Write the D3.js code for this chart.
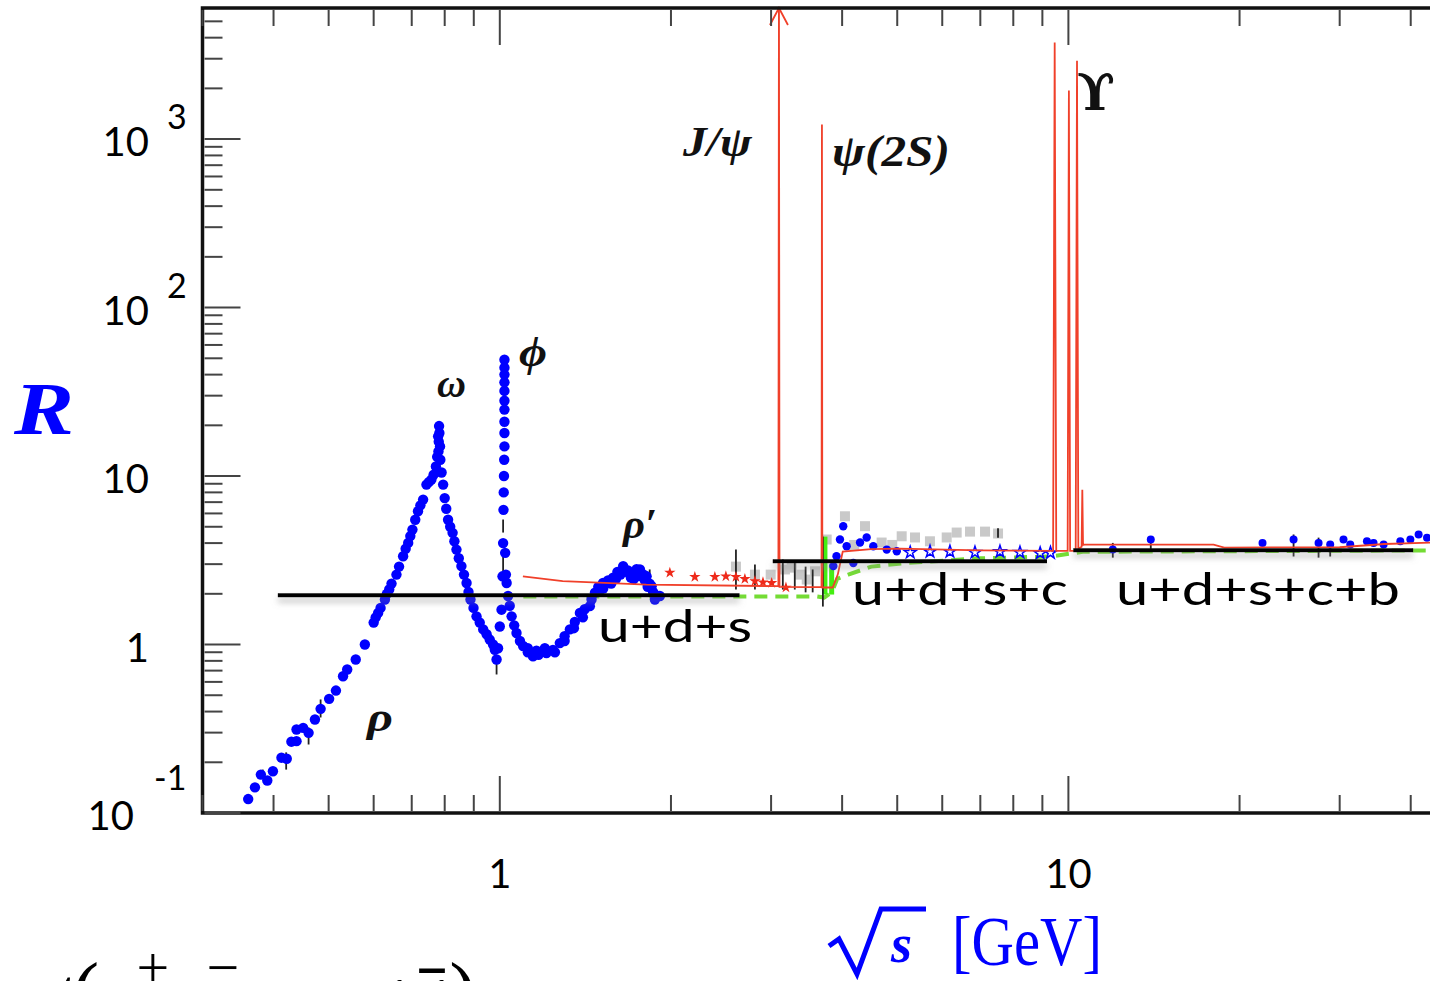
<!DOCTYPE html>
<html>
<head>
<meta charset="utf-8">
<script src="https://cdn.jsdelivr.net/npm/d3@7"></script>
<style>
  body { margin: 0; background: #fff; }
  svg { display: block; }
</style>
</head>
<body>
<svg id="chart" width="1430" height="981"></svg>
<script>
// values: [sqrt(s) in GeV, R]
var lowEnergyDots = [
  [0.361,0.121],[0.371,0.142],[0.380,0.169],[0.390,0.156],[0.399,0.177],[0.413,0.213],[0.422,0.210],
  [0.430,0.265],[0.439,0.267],[0.439,0.313],[0.451,0.320],[0.461,0.299],[0.473,0.359],[0.484,0.415],
  [0.501,0.476],[0.515,0.533],[0.530,0.648],[0.539,0.711],[0.558,0.815],[0.579,1.0],[0.600,1.35],
  [0.605,1.45],[0.611,1.54],[0.617,1.65],[0.628,1.85],[0.633,2.0],[0.639,2.12],[0.645,2.3],[0.658,2.60],
  [0.665,2.9],[0.676,3.34],[0.683,3.7],[0.690,4.01],[0.696,4.4],[0.702,4.81],[0.710,5.5],[0.718,6.18],
  [0.725,6.7],[0.733,7.25],[0.743,8.90],[0.750,9.2],[0.758,9.53],[0.765,10.2],[0.772,11.4],[0.776,13],
  [0.779,17.2],[0.780,14],[0.781,16],[0.782,19.8],[0.783,18],[0.785,15],[0.786,12.5],
  [0.790,10.5],[0.795,8.9],[0.800,7.4],[0.805,6.4],[0.811,5.5],[0.818,5.0],[0.826,4.6],[0.832,4.1],
  [0.839,3.66],[0.847,3.25],[0.856,2.92],[0.865,2.6],[0.874,2.32],[0.881,2.05],[0.888,1.85],[0.899,1.65],
  [0.910,1.47],[0.922,1.35],[0.935,1.23],[0.948,1.15],[0.960,1.07],[0.973,1.0],[0.980,0.93],[0.987,0.815],
  [0.993,0.95],[1.000,1.28],[1.007,1.61],[1.011,2.54],[1.0135,4.0],[1.015,6.3],[1.016,8],[1.017,10],
  [1.018,12.5],[1.019,15],[1.019,18],[1.019,21],[1.019,24.8],[1.019,28],[1.019,32],[1.019,36],[1.019,40],
  [1.019,44],[1.019,49],
  [1.022,3.5],[1.025,2.6],[1.028,2.32],[1.034,1.94],[1.041,1.7],[1.049,1.47],[1.060,1.3],[1.070,1.17],
  [1.085,1.05],[1.099,0.98],[1.12,0.9],[1.12,0.95],[1.144,0.85],[1.16,0.92],[1.17,0.87],[1.2,0.95],
  [1.208,0.89],[1.24,0.93],[1.25,0.9],[1.275,1.02],[1.30,1.12],[1.30,1.05],[1.328,1.23],[1.35,1.25],
  [1.355,1.36],[1.383,1.54],[1.40,1.45],[1.41,1.62],[1.44,1.69],[1.45,1.85],[1.47,2.03],[1.49,2.2],
  [1.50,2.1],[1.519,2.32],[1.52,2.15],[1.55,2.4],[1.57,2.3],[1.582,2.49],[1.60,2.45],[1.61,2.7],
  [1.63,2.6],[1.648,2.92],[1.66,2.7],[1.68,2.75],[1.70,2.5],[1.717,2.67],[1.72,2.45],[1.74,2.8],
  [1.76,2.55],[1.764,2.79],[1.79,2.6],[1.80,2.4],[1.812,2.54],[1.82,2.2],[1.835,2.3],[1.849,2.22],
  [1.86,2.05],[1.874,1.85],[1.89,1.95],[1.912,1.94]
];
var charmDots = [
  [3.86,2.92],[3.91,3.34],[3.965,4.2],[4.018,5.04],[4.074,3.83],[4.186,3.05],[4.301,4.03],
  [4.418,4.32],[4.538,3.83],[4.792,3.66],[4.991,3.58]
];
var charmStars = [[5.27,3.52],[5.71,3.56],[6.19,3.56],[6.85,3.52],[7.58,3.56],[8.22,3.52],[8.92,3.48],[9.3,3.5]];
var highEnergyDots = [
  [11.97,3.66],[13.96,4.2],[21.95,4.01],[24.89,4.2],[27.54,4.01],[28.87,3.92],[30.47,4.2],[31.31,3.92],
  [33.5,4.1],[34.41,4.01],[35.84,3.92],[38.35,4.1],[39.94,4.2],[41.3,4.5],[42.73,4.3]
];
var graySquares = [
  [2.602,2.90],[2.81,2.60],[2.995,2.60],[3.173,2.79],[3.261,2.86],[3.373,2.60],[3.466,2.43],[3.584,2.72],
  [3.757,4.2],[4.046,5.77],[4.2,3.9],[4.388,5.04],[4.694,4.03],[4.9,3.9],[5.091,4.39],[5.373,4.32],
  [5.708,4.10],[6.109,4.32],[6.361,4.62],[6.714,4.68],[7.135,4.68],[7.521,4.56]
];
var redStars = [
  [1.991,2.67],[2.203,2.52],[2.389,2.52],[2.498,2.54],[2.602,2.52],[2.698,2.45],[2.81,2.38],
  [2.903,2.34],[3.007,2.32],[3.186,2.18]
];
// [sqrt(s), low, high]
var errorBars = [
  [0.383,0.165,0.181],[0.421,0.181,0.229],[0.461,0.255,0.322],[0.484,0.369,0.472],[0.987,0.664,0.849],
  [1.0135,2.53,3.33],[1.0135,4.62,5.52],[1.835,2.43,2.79],[2.602,2.12,3.66],[2.81,2.12,2.99],
  [3.146,2.12,3.2],[3.302,2.12,3.07],[3.45,2.04,2.9],[3.55,2.04,2.79],[3.70,1.68,4.37],
  [7.52,4.3,4.9],[11.97,3.28,4.01],[13.96,3.66,4.37],[24.89,3.33,4.5],[27.54,3.28,4.31],[28.87,3.33,4.01]
];
var greenBars = [[3.731,1.98,4.37],[3.834,1.98,2.99]];
var greenDashed = [
  [1.1,1.93],[3.60,1.93],[3.72,1.9],[3.84,2.05],[3.92,2.45],[4.10,2.6],[4.5,2.9],[5.2,3.05],
  [7,3.25],[9.3,3.33],[10.6,3.55],[43.6,3.62]
];
var redCurve = [
  [1.098,2.54],[1.29,2.38],[1.81,2.27],[3.07,2.22],[3.090,2.22],[3.097,10000],[3.104,2.2],[3.55,2.19],
  [3.680,2.19],[3.686,1220],[3.692,2.18],[3.85,2.18],[3.93,2.6],[4.01,3.56],[4.5,3.68],[5.05,3.71],
  [7,3.62],[9.40,3.6],[9.46,3740],[9.52,3.6],[9.97,3.6],[10.02,1940],[10.07,3.6],[10.30,3.6],
  [10.355,2920],[10.41,3.7],[10.55,3.8],[10.58,8.3],[10.61,3.9],[10.68,3.92],[18.0,3.92],[18.8,3.76],
  [30,3.78],[36,3.95],[43.6,4.03]
];
var quarkLabels = ["u+d+s", "u+d+s+c", "u+d+s+c+b"];
var quarkR = [1.96, 3.12, 3.63];
var quarkFrom = [0.407, 3.02, 10.2];
var quarkTo = [2.64, 9.17, 40.4];
var xTickValues = [1, 10];
var yTickExponents = [-1, 0, 1, 2, 3];

var svg = d3.select("#chart");
var plotLeft = 202.5, plotRight = 1432, plotTop = 8, plotBottom = 813;

var x = d3.scaleLog().domain([0.3, 43.6]).range([plotLeft, plotRight]),
    y = d3.scaleLog().domain([0.1, 6000]).range([plotBottom, plotTop]);

var defs = svg.append("defs");
defs.append("clipPath").attr("id", "plot")
    .append("rect").attr("x", plotLeft).attr("y", plotTop)
    .attr("width", plotRight - plotLeft).attr("height", plotBottom - plotTop);
var shadow = defs.append("filter").attr("id", "shadow")
    .attr("filterUnits", "userSpaceOnUse")
    .attr("x", 0).attr("y", 0).attr("width", 1430).attr("height", 981);
shadow.append("feDropShadow").attr("dx", 0).attr("dy", 5).attr("stdDeviation", 3)
    .attr("flood-color", "#888").attr("flood-opacity", 0.55);

var g = svg.append("g").attr("clip-path", "url(#plot)");

// green dashed (QCD) line
g.append("path")
    .datum(greenDashed)
    .attr("fill", "none")
    .attr("stroke", "#74dc34")
    .attr("stroke-width", 4)
    .attr("stroke-dasharray", "13,8")
    .attr("d", d3.line().x(function (d) { return x(d[0]); }).y(function (d) { return y(d[1]); }));

// gray squares
g.selectAll(".sq")
    .data(graySquares)
    .enter()
    .append("rect")
    .attr("x", function (d) { return x(d[0]) - 5; })
    .attr("y", function (d) { return y(d[1]) - 5; })
    .attr("width", 10)
    .attr("height", 10)
    .attr("fill", "#c9c9c9");

// green bars near charm threshold
g.selectAll(".gbar")
    .data(greenBars)
    .enter()
    .append("line")
    .attr("x1", function (d) { return x(d[0]); })
    .attr("x2", function (d) { return x(d[0]); })
    .attr("y1", function (d) { return y(d[1]); })
    .attr("y2", function (d) { return y(d[2]); })
    .attr("stroke", "#44ee11")
    .attr("stroke-width", 5);

// error bars
g.selectAll(".err")
    .data(errorBars)
    .enter()
    .append("line")
    .attr("x1", function (d) { return x(d[0]); })
    .attr("x2", function (d) { return x(d[0]); })
    .attr("y1", function (d) { return y(d[1]); })
    .attr("y2", function (d) { return y(d[2]); })
    .attr("stroke", "#222")
    .attr("stroke-width", 1.8);

// blue data
g.selectAll(".low")
    .data(lowEnergyDots)
    .enter()
    .append("circle")
    .attr("cx", function (d) { return x(d[0]); })
    .attr("cy", function (d) { return y(d[1]); })
    .attr("r", 5.2)
    .attr("fill", "#0000ff");

g.selectAll(".charm")
    .data(charmDots)
    .enter()
    .append("circle")
    .attr("cx", function (d) { return x(d[0]); })
    .attr("cy", function (d) { return y(d[1]); })
    .attr("r", 4.2)
    .attr("fill", "#0000ff");

g.selectAll(".high")
    .data(highEnergyDots)
    .enter()
    .append("circle")
    .attr("cx", function (d) { return x(d[0]); })
    .attr("cy", function (d) { return y(d[1]); })
    .attr("r", 4)
    .attr("fill", "#0000ff");

g.selectAll(".bstar")
    .data(charmStars)
    .enter()
    .append("path")
    .attr("transform", function (d) { return "translate(" + x(d[0]) + "," + y(d[1]) + ")"; })
    .attr("d", d3.symbol().type(d3.symbolStar).size(45))
    .attr("fill", "none")
    .attr("stroke", "#0000ff")
    .attr("stroke-width", 1.5);

g.selectAll(".rstar")
    .data(redStars)
    .enter()
    .append("path")
    .attr("transform", function (d) { return "translate(" + x(d[0]) + "," + y(d[1]) + ")"; })
    .attr("d", d3.symbol().type(d3.symbolStar).size(40))
    .attr("fill", "#ee2a1a");

// red theory curve with resonance spikes
g.append("path")
    .datum(redCurve)
    .attr("fill", "none")
    .attr("stroke", "#f0402a")
    .attr("stroke-width", 1.8)
    .attr("d", d3.line().x(function (d) { return x(d[0]); }).y(function (d) { return y(d[1]); }));

// arrow head where J/psi leaves the frame
var jx = x(redCurve[5][0]);
svg.append("path")
    .attr("d", "M" + (jx - 9) + "," + (plotTop + 17) + "L" + jx + "," + plotTop + "L" + (jx + 9) + "," + (plotTop + 17))
    .attr("fill", "none")
    .attr("stroke", "#f0402a")
    .attr("stroke-width", 1.8);

// quark-parton model levels
quarkLabels.forEach(function (lab, i) {
    svg.append("line")
        .attr("x1", x(quarkFrom[i]))
        .attr("x2", x(quarkTo[i]))
        .attr("y1", y(quarkR[i]))
        .attr("y2", y(quarkR[i]))
        .attr("stroke", "#000")
        .attr("stroke-width", 4)
        .attr("filter", "url(#shadow)");
});

var labelPos = [[598, 642, 154], [852, 605, 216], [1116, 605, 284]];
quarkLabels.forEach(function (lab, i) {
    svg.append("text")
        .attr("x", labelPos[i][0])
        .attr("y", labelPos[i][1])
        .attr("textLength", labelPos[i][2])
        .attr("lengthAdjust", "spacingAndGlyphs")
        .attr("font-family", "Lato, sans-serif")
        .attr("font-size", 44)
        .attr("fill", "#000")
        .text(lab);
});

// frame
svg.append("path")
    .attr("d", "M" + (plotRight + 5) + "," + plotTop + "H" + plotLeft + "V" + plotBottom + "H" + (plotRight + 5))
    .attr("fill", "none")
    .attr("stroke", "#111")
    .attr("stroke-width", 3.5);

// x ticks (bottom and top)
var xMinor = [];
[0.1, 1, 10].forEach(function (dec) {
    for (var k = 2; k <= 9; k++) {
        var v = k * dec;
        if (v > 0.3 && v < 43.6) xMinor.push(v);
    }
});
var xt = svg.append("g").attr("stroke", "#444").attr("stroke-width", 2);
xMinor.concat(xTickValues).forEach(function (v) {
    var len = xTickValues.indexOf(v) >= 0 ? 37 : 18;
    xt.append("line").attr("x1", x(v)).attr("x2", x(v)).attr("y1", plotBottom - 2).attr("y2", plotBottom - len);
    xt.append("line").attr("x1", x(v)).attr("x2", x(v)).attr("y1", plotTop + 2).attr("y2", plotTop + len);
});
svg.selectAll(".xlab")
    .data(xTickValues)
    .enter()
    .append("text")
    .attr("x", function (d) { return x(d); })
    .attr("y", 888)
    .attr("text-anchor", "middle")
    .attr("font-family", "Lato, sans-serif")
    .attr("font-size", 40)
    .attr("fill", "#000")
    .text(function (d) { return d; });

// y ticks (left)
var yt = svg.append("g").attr("stroke", "#444").attr("stroke-width", 2);
yTickExponents.forEach(function (e) {
    var dec = Math.pow(10, e);
    yt.append("line").attr("x1", plotLeft + 2).attr("x2", plotLeft + 38).attr("y1", y(dec)).attr("y2", y(dec));
    for (var k = 2; k <= 9; k++) {
        var v = k * dec;
        if (v < 6000) yt.append("line").attr("x1", plotLeft + 2).attr("x2", plotLeft + 20).attr("y1", y(v)).attr("y2", y(v));
    }
});
yTickExponents.forEach(function (e) {
    var ty = y(Math.pow(10, e));
    var base = svg.append("text")
        .attr("font-family", "Lato, sans-serif")
        .attr("font-size", 40)
        .attr("text-anchor", "end")
        .attr("fill", "#000");
    if (e === 0) {
        base.attr("x", 149).attr("y", ty + 17).text("1");
    } else if (e === 1) {
        base.attr("x", 149).attr("y", ty + 17).text("10");
    } else {
        var neg = e < 0;
        base.attr("x", neg ? 134 : 149).attr("y", ty + 17).text("10");
        svg.append("text")
            .attr("x", neg ? 154 : 167)
            .attr("y", neg ? ty - 23 : ty - 10)
            .attr("font-family", "Lato, sans-serif")
            .attr("font-size", 34)
            .attr("fill", "#000")
            .text(e);
    }
});

// resonance names
var serif = "'Liberation Serif', 'DejaVu Serif', serif";
function label(txt, px, py, size, width, family, style) {
    var t = svg.append("text")
        .attr("x", px).attr("y", py)
        .attr("font-family", family || serif)
        .attr("font-size", size)
        .attr("font-weight", "bold")
        .attr("font-style", style || "italic")
        .attr("fill", "#111")
        .text(txt);
    if (width) t.attr("textLength", width).attr("lengthAdjust", "spacingAndGlyphs");
    return t;
}
label("ω", 437, 397, 40, 29);
label("ϕ", 519, 366, 42, 28);
label("ρ′", 623, 538, 42, 34);
label("ρ", 367, 731, 42, 26);
label("J/ψ", 683, 156, 42, 69);
label("ψ(2S)", 832, 166, 44, 118);
label("ϒ", 1077, 110, 50, 38, "'DejaVu Serif', serif", "normal");

// axis titles
svg.append("text")
    .attr("x", 14).attr("y", 434)
    .attr("font-family", serif)
    .attr("font-size", 74)
    .attr("font-weight", "bold")
    .attr("font-style", "italic")
    .attr("textLength", 60)
    .attr("lengthAdjust", "spacingAndGlyphs")
    .attr("fill", "#0000ff")
    .text("R");

svg.append("path")
    .attr("d", "M829,946 L839,939 L857,974 L881,909 L926,909")
    .attr("fill", "none")
    .attr("stroke", "#0000ff")
    .attr("stroke-width", 5)
    .attr("stroke-linejoin", "miter");
svg.append("text")
    .attr("x", 891).attr("y", 962)
    .attr("font-family", serif)
    .attr("font-size", 54)
    .attr("font-weight", "bold")
    .attr("font-style", "italic")
    .attr("fill", "#0000ff")
    .text("s");
svg.append("text")
    .attr("x", 952).attr("y", 965)
    .attr("font-family", serif)
    .attr("font-size", 70)
    .attr("textLength", 150)
    .attr("lengthAdjust", "spacingAndGlyphs")
    .attr("fill", "#0000ff")
    .text("[GeV]");

// numerator of the R definition, cut by the page edge
var num = svg.append("text")
    .attr("x", 26).attr("y", 1021)
    .attr("font-family", serif)
    .attr("font-size", 84)
    .attr("fill", "#000");
num.append("tspan").text("σ(e");
num.append("tspan").attr("dy", -34).attr("font-size", 58).text("+");
num.append("tspan").attr("dy", 34).text("e");
num.append("tspan").attr("dy", -34).attr("font-size", 58).text("−");
num.append("tspan").attr("dy", 34).text(" → q");
num.append("tspan").text("q̄)");
</script>
</body>
</html>
